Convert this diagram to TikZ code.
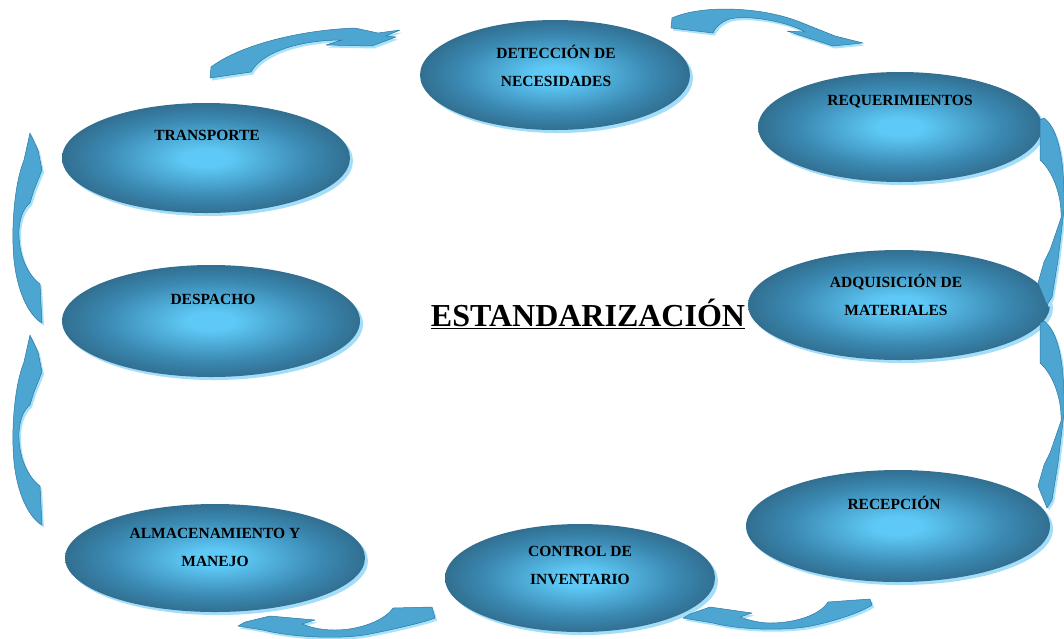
\documentclass[tikz,border=0pt]{standalone}
\usepackage{fontspec}
\setmainfont{Liberation Serif}
\usetikzlibrary{shapes.geometric}
\definecolor{ecenter}{HTML}{5EC9F6}
\definecolor{emid}{HTML}{3A88B1}
\definecolor{edark}{HTML}{2D617F}
\definecolor{eedge}{HTML}{28516B}
\definecolor{eshadow}{HTML}{A3DDF8}
\definecolor{arrowblue}{HTML}{4CA6D1}
\definecolor{arrowdark}{HTML}{2E77A0}
\definecolor{arrowlight}{HTML}{A8E2FB}
\pgfdeclareradialshading{ellshade}{\pgfpoint{0bp}{0bp}}{color(0bp)=(ecenter); color(4bp)=(ecenter); color(18bp)=(emid); color(29bp)=(edark); color(35bp)=(eedge); color(50bp)=(eedge)}
\tikzset{
  ell/.style={ellipse, inner sep=0pt, shading=ellshade,
    preaction={fill=eshadow, transform canvas={shift={(3pt,-3pt)}}}},
  lab/.style={font=\fontsize{15.5}{28}\selectfont\bfseries, align=center, inner sep=0pt},
  blockarrow/.style={fill=arrowblue, draw=arrowdark, line width=0.5pt, line join=round,
    preaction={fill=arrowlight, transform canvas={shift={(2pt,-2.5pt)}}}}
}
\newcommand{\arrowdown}{(1040,120) -- (1044,118) .. controls (1058,128) and (1065,160) .. (1064,210) -- (1058,260) -- (1052,297) -- (1047,305) -- (1038,283) -- (1044,262) -- (1050,250) -- (1061,218) .. controls (1062,195) and (1052,170) .. (1040,160) -- cycle}
\newcommand{\arrowup}{(42,323) -- (40,284) .. controls (28,275) and (18,255) .. (19,230) .. controls (20,215) and (25,207) .. (30,203) -- (34,190) -- (42,170) -- (38,150) -- (30,133) -- (24,160) .. controls (14,185) and (11,230) .. (14,260) .. controls (17,290) and (28,315) .. (42,323) -- cycle}
\begin{document}
\begin{tikzpicture}[x=1pt,y=-1pt]
\useasboundingbox (0,0) rectangle (1064,638);
% ellipses
\node[ell, minimum width=270pt, minimum height=110pt] (e1) at (555,75) {};
\node[ell, minimum width=284pt, minimum height=110pt] (e2) at (900,127) {};
\node[ell, minimum width=288pt, minimum height=110pt] (e3) at (206,158) {};
\node[ell, minimum width=298pt, minimum height=112pt] (e4) at (211,321) {};
\node[ell, minimum width=302pt, minimum height=110pt] (e5) at (899,305) {};
\node[ell, minimum width=304pt, minimum height=112pt] (e6) at (898,526) {};
\node[ell, minimum width=300pt, minimum height=108pt] (e7) at (215,558) {};
\node[ell, minimum width=270pt, minimum height=108pt] (e8) at (580,578) {};
% labels
\node[lab] (t1) at (556,66) {DETECCIÓN DE\\NECESIDADES};
\node[lab] (t2) at (900,102) {REQUERIMIENTOS};
\node[lab] (t3) at (207,135) {TRANSPORTE};
\node[lab] (t4) at (213,299) {DESPACHO};
\node[lab] (t5) at (896,295) {ADQUISICIÓN DE\\MATERIALES};
\node[lab] (t6) at (894,503) {RECEPCIÓN};
\node[lab] (t7) at (215,547) {ALMACENAMIENTO Y\\MANEJO};
\node[lab] (t8) at (580,565) {CONTROL DE\\INVENTARIO};
\node[font=\fontsize{32}{38}\selectfont\bfseries, inner sep=0pt, anchor=base] (title) at (588,326) {\underline{ESTANDARIZACIÓN}};
% curved block arrows
\path[blockarrow] (210,78) -- (211,67) .. controls (240,45) and (300,30) .. (355,28) -- (378,33) -- (400,30) -- (386,36) -- (396,37) -- (372,46) -- (326,45) -- (342,40) .. controls (300,40) and (262,52) .. (251,72) -- cycle;
\path[blockarrow] (671,28) -- (672,18) .. controls (700,5) and (760,6) .. (800,22) -- (835,36) -- (863,43) -- (833,46) -- (787,31) -- (805,32) .. controls (785,20) and (740,14) .. (727,20) .. controls (718,24) and (714,30) .. (713,33) -- cycle;
\path[blockarrow] \arrowdown;
\begin{scope}[shift={(0,203)}]
\path[blockarrow] \arrowdown;
\end{scope}
\path[blockarrow] \arrowup;
\begin{scope}[shift={(0,202)}]
\path[blockarrow] \arrowup;
\end{scope}
\path[blockarrow] (435,618) -- (432,607) -- (393,608) .. controls (385,620) and (360,630) .. (335,630) .. controls (320,630) and (310,627) .. (302,624) -- (315,620) -- (270,616) -- (245,622) -- (238,626) -- (263,630) .. controls (290,637) and (340,640) .. (370,634) .. controls (400,628) and (425,622) .. (435,618) -- cycle;
\path[blockarrow] (872,605) -- (870,599) -- (828,602) .. controls (820,615) and (795,623) .. (770,623) .. controls (760,623) and (748,620) .. (740,617) -- (752,613) -- (710,607) -- (690,614) -- (683,618) -- (713,623) .. controls (740,630) and (790,632) .. (820,624) .. controls (845,618) and (865,610) .. (872,605) -- cycle;
\end{tikzpicture}
\end{document}
